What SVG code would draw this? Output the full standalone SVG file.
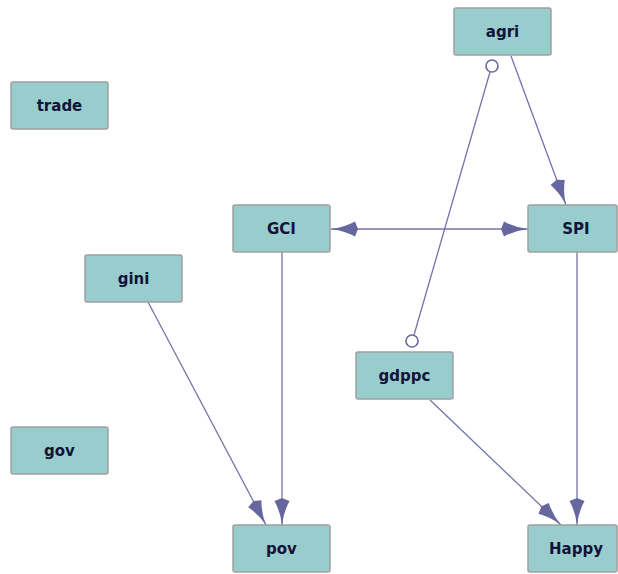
<svg xmlns="http://www.w3.org/2000/svg" width="618" height="574" viewBox="0 0 618 574">
<defs>
<style>
.n rect{fill:#99cccc;stroke:#a0a0a0;stroke-width:1.5}
.n text{font-family:"DejaVu Sans","Liberation Sans",Arial,sans-serif;font-weight:bold;font-size:15px;fill:#12123a;text-anchor:middle}
.e line{stroke:#7373aa;stroke-width:1.3;fill:none}
.c{fill:#ffffff;stroke:#6a6aa2;stroke-width:1.6}
</style>
<marker id="ah" viewBox="0 0 27 16" refX="27" refY="8" markerWidth="27" markerHeight="16" markerUnits="userSpaceOnUse" orient="auto-start-reverse">
<path d="M0,8 L3,0.5 Q14,6.5 27,8 Q14,9.5 3,15.5 Z" fill="#67679f"/>
</marker>
</defs>
<rect width="618" height="574" fill="#ffffff"/>
<g id="edges" class="e">
<line x1="511" y1="56" x2="566" y2="205" marker-end="url(#ah)"/>
<line x1="490" y1="72" x2="414" y2="335"/>
<circle class="c" cx="492" cy="66" r="6"/>
<circle class="c" cx="412" cy="341" r="6"/>
<line x1="331" y1="229" x2="528" y2="229" marker-start="url(#ah)" marker-end="url(#ah)"/>
<line x1="282" y1="252" x2="282" y2="525" marker-end="url(#ah)"/>
<line x1="148" y1="302" x2="266" y2="525" marker-end="url(#ah)"/>
<line x1="577" y1="252" x2="577" y2="525" marker-end="url(#ah)"/>
<line x1="430" y1="400" x2="561" y2="525" marker-end="url(#ah)"/>
</g>
<g id="agri" class="n"><rect x="454" y="8" width="97" height="47" rx="2"/><text x="502.5" y="37">agri</text></g>
<g id="trade" class="n"><rect x="11" y="82" width="97" height="47" rx="2"/><text x="59.5" y="111">trade</text></g>
<g id="GCI" class="n"><rect x="233" y="205" width="97" height="47" rx="2"/><text x="281.5" y="234">GCI</text></g>
<g id="SPI" class="n"><rect x="528" y="205" width="89" height="47" rx="2"/><text x="576" y="234">SPI</text></g>
<g id="gini" class="n"><rect x="85" y="255" width="97" height="47" rx="2"/><text x="133.5" y="284">gini</text></g>
<g id="gdppc" class="n"><rect x="356" y="352" width="97" height="47" rx="2"/><text x="404.5" y="381">gdppc</text></g>
<g id="gov" class="n"><rect x="11" y="427" width="97" height="47" rx="2"/><text x="59.5" y="456">gov</text></g>
<g id="pov" class="n"><rect x="233" y="525" width="97" height="47" rx="2"/><text x="281.5" y="554">pov</text></g>
<g id="Happy" class="n"><rect x="528" y="525" width="89" height="47" rx="2"/><text x="576" y="554">Happy</text></g>
</svg>
